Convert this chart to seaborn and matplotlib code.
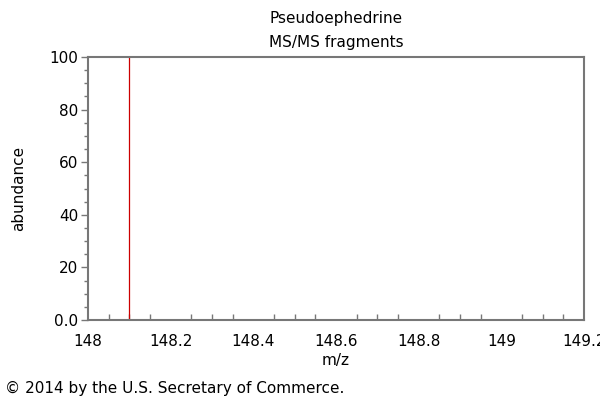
import matplotlib
matplotlib.use('Agg')
import matplotlib.pyplot as plt
import seaborn as sns
from matplotlib.ticker import MultipleLocator, FixedLocator, FixedFormatter

# Spectrum peaks
mz = [148.1]
abundance = [100]

x_ticks = [148, 148.2, 148.4, 148.6, 148.8, 149, 149.2]
x_labels = ['148', '148.2', '148.4', '148.6', '148.8', '149', '149.2']
y_ticks = [0, 20, 40, 60, 80, 100]
y_labels = ['0.0', '20', '40', '60', '80', '100']

sns.set_style('white')
plt.rcParams['font.family'] = ['DejaVu Sans']
plt.rcParams['text.color'] = 'black'
plt.rcParams['axes.labelcolor'] = 'black'

fig = plt.figure(figsize=(6, 4), dpi=100)
ax = fig.add_axes([88 / 600, 80 / 400, 496 / 600, 263 / 400])

ax.vlines(mz, 0, abundance, color='#cc0000', linewidth=0.9)

ax.set_xlim(148, 149.2)
ax.set_ylim(0, 100)
ax.xaxis.set_major_locator(FixedLocator(x_ticks))
ax.xaxis.set_major_formatter(FixedFormatter(x_labels))
ax.xaxis.set_minor_locator(MultipleLocator(0.05))
ax.yaxis.set_major_locator(FixedLocator(y_ticks))
ax.yaxis.set_major_formatter(FixedFormatter(y_labels))
ax.yaxis.set_minor_locator(MultipleLocator(5))

gray = '#777777'
for s in ax.spines.values():
    s.set_color(gray)
    s.set_linewidth(1.5)

ax.tick_params(axis='x', which='major', direction='inout', length=8, width=1, color=gray,
               labelsize=11, pad=6, labelcolor='black')
ax.tick_params(axis='x', which='minor', direction='in', length=4, width=1, color=gray,
               bottom=True)
ax.tick_params(axis='y', which='major', direction='out', length=5, width=1, color=gray,
               labelsize=11, pad=2, labelcolor='black', left=True)
ax.tick_params(axis='y', which='minor', direction='out', length=3, width=1, color=gray,
               left=True)

ax.set_xlabel('m/z', fontsize=11, labelpad=3, color='black')
ax.set_ylabel('abundance', fontsize=11, labelpad=17, color='black')
ax.set_title('Pseudoephedrine\nMS/MS fragments', fontsize=11, linespacing=1.8, pad=7,
             color='black')

fig.text(5 / 600, 1 - 388 / 400, '\u00a9 2014 by the U.S. Secretary of Commerce.',
         fontsize=11, va='center', ha='left', color='black')

fig.savefig('out.png', dpi=100)
